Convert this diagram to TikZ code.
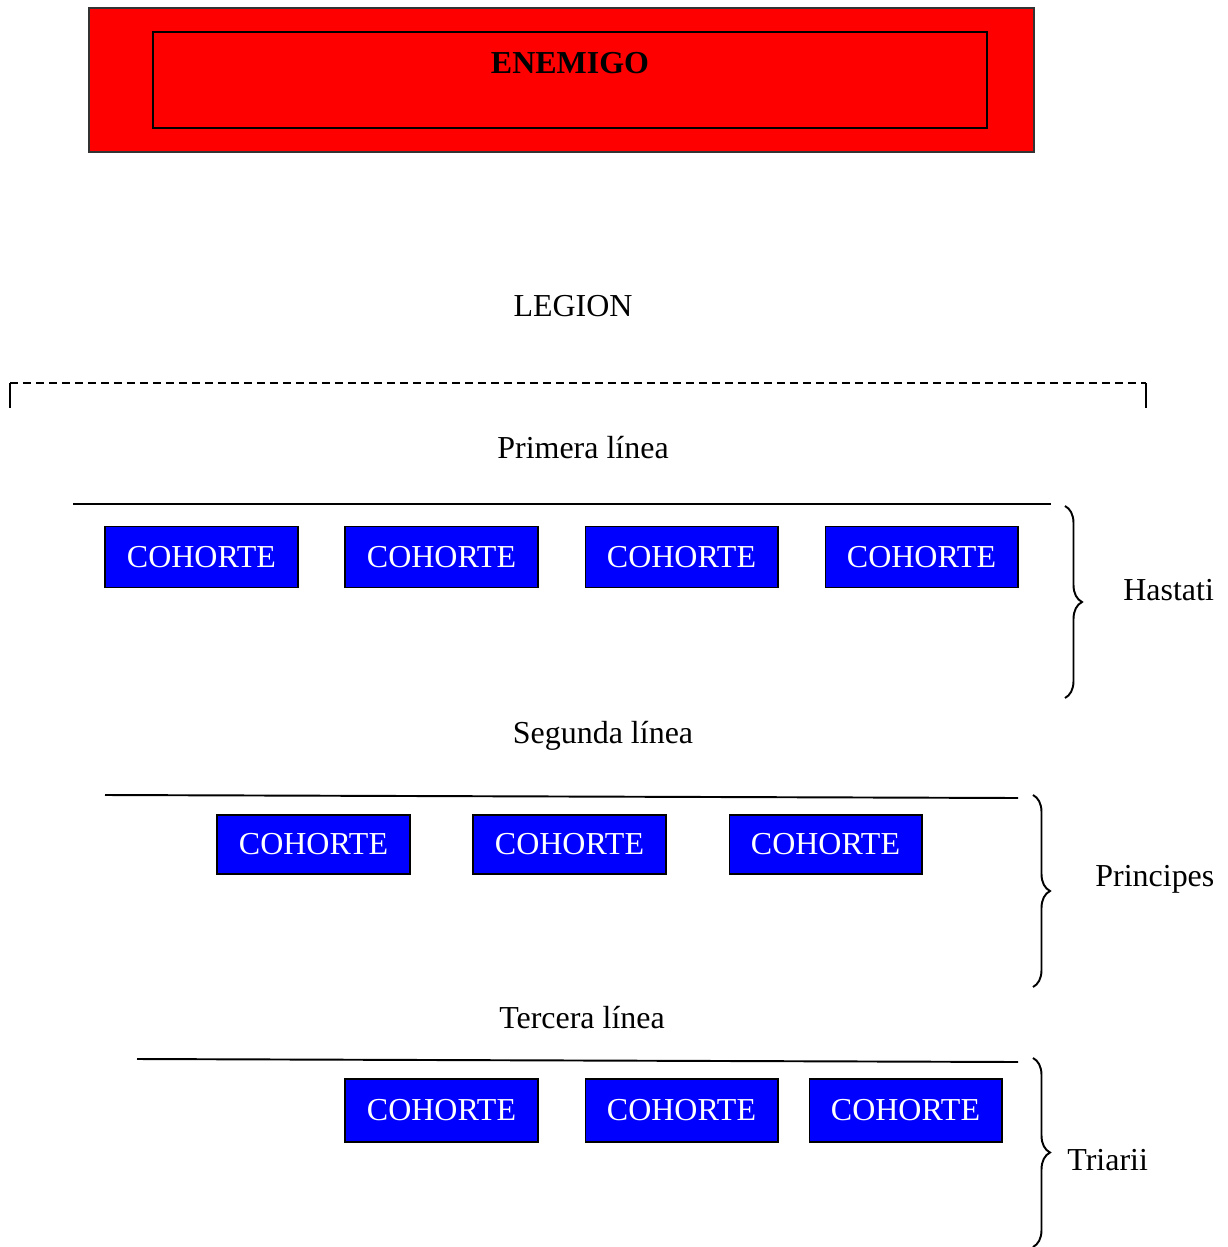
\documentclass[tikz,border=0pt]{standalone}
\usepackage{fontspec}
\setmainfont{Liberation Serif}
\usetikzlibrary{decorations.pathreplacing}

\begin{document}
\begin{tikzpicture}[x=0.02cm,y=-0.02cm,
		txt/.style={font=\fontsize{18.2pt}{22pt}\selectfont, inner sep=0pt},
		cohorte/.style={txt, draw=black, line width=0.6pt, fill=blue, text=white, minimum width=3.86cm, minimum height=1.22cm},
		linea/.style={line width=1.1pt},
		llave/.style={line width=1.1pt, decorate, decoration={brace, amplitude=0.34cm}}]
		\useasboundingbox (0,0) rectangle (1227,1247);
		% Draw enemy.
		\draw[fill=red, draw=black!80, line width=1.1pt] (89,8) rectangle (1034,152);
		\draw[line width=1.1pt] (153,32) rectangle (987,128);
		\node[txt, anchor=base, font=\fontsize{18.2pt}{22pt}\selectfont\bfseries] (enemigo) at (570,74) {ENEMIGO};
		\node[txt, anchor=base] (legion) at (573,316) {LEGION};
		% Draw dashed bracket.
		\coordinate (dl) at (10,383);		\coordinate (dr) at (1146,383);
		\draw[linea] ([yshift=-0.5cm]dl) -- (dl);
		\draw[linea, dash pattern=on 0.16cm off 0.1cm] (dl) -- (dr);
		\draw[linea] (dr) -- ([yshift=-0.5cm]dr);
		% Draw first line.
		\node[txt, anchor=base] (primera) at (583,458) {Primera línea};
		\coordinate (a1) at (73,504);		\coordinate (a2) at (1051,504);
		\draw[linea] (a1) -- (a2);
		\node[cohorte] (h1) at (201.5,557) {COHORTE};
		\node[cohorte] (h2) at (441.5,557) {COHORTE};
		\node[cohorte] (h3) at (681.5,557) {COHORTE};
		\node[cohorte] (h4) at (921.5,557) {COHORTE};
		\coordinate (ha) at (1065,506);		\coordinate (hb) at (1065,698);
		\draw[llave] (ha) -- (hb);
		\node[txt, anchor=base west] (hastati) at (1123,600) {Hastati};
		% Draw second line.
		\node[txt, anchor=base] (segunda) at (603,743) {Segunda línea};
		\coordinate (b1) at (105,795);		\coordinate (b2) at (1018,798);
		\draw[linea] (b1) -- (b2);
		\node[cohorte, minimum height=1.18cm] (p1) at (313.5,844.5) {COHORTE};
		\node[cohorte, minimum height=1.18cm] (p2) at (569.5,844.5) {COHORTE};
		\node[cohorte, minimum height=1.18cm] (p3) at (825.5,844.5) {COHORTE};
		\coordinate (pa) at (1033,795);		\coordinate (pb) at (1033,987);
		\draw[llave] (pa) -- (pb);
		\node[txt, anchor=base west] (principes) at (1095,886) {Principes};
		% Draw third line.
		\node[txt, anchor=base] (tercera) at (582,1028) {Tercera línea};
		\coordinate (c1) at (137,1059);		\coordinate (c2) at (1018,1062);
		\draw[linea] (c1) -- (c2);
		\node[cohorte, minimum height=1.26cm] (t1) at (441.5,1110.5) {COHORTE};
		\node[cohorte, minimum height=1.26cm] (t2) at (681.5,1110.5) {COHORTE};
		\node[cohorte, minimum height=1.26cm] (t3) at (905.5,1110.5) {COHORTE};
		\coordinate (ta) at (1033,1058);		\coordinate (tb) at (1033,1247);
		\draw[llave] (ta) -- (tb);
		\node[txt, anchor=base west] (triarii) at (1067,1170) {Triarii};
	\end{tikzpicture}
\end{document}
